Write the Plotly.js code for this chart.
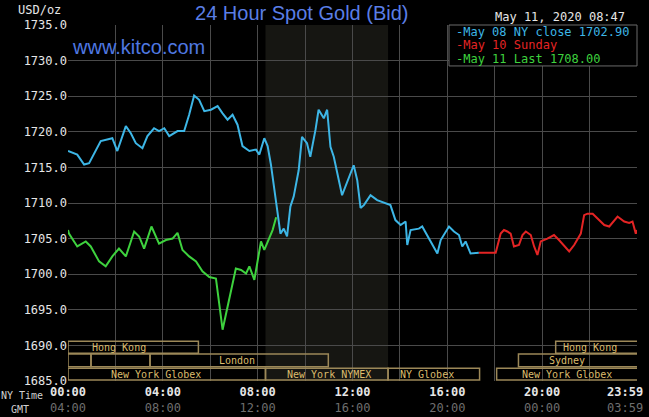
<!DOCTYPE html>
<html>
<head>
<meta charset="utf-8">
<script src="https://cdn.plot.ly/plotly-3.0.1.min.js"></script>
<style>html,body{margin:0;padding:0;background:#000;}#chart{width:649px;height:417px;}</style>
</head>
<body>
<div id="chart"></div>
<script>
// Time in hours (NY time), values in USD/oz
var may08Hours = [0.0,0.39,0.68,0.89,1.38,1.59,1.87,2.08,2.44,2.65,2.86,3.14,3.35,3.63,3.84,4.06,4.27,4.62,4.90,5.11,5.32,5.53,5.75,6.03,6.31,6.52,6.73,6.94,7.15,7.36,7.65,7.93,8.07,8.28,8.42,8.56,8.67,8.82,8.96,9.10,9.24,9.38,9.52,9.73,9.87,10.08,10.22,10.44,10.57,10.79,10.93,11.07,11.21,11.56,11.77,12.05,12.20,12.34,12.48,12.76,13.04,13.39,13.60,13.81,14.03,14.24,14.31,14.45,14.80,14.94,15.15,15.37,15.58,15.72,16.07,16.28,16.49,16.63,16.77,16.98,17.33];
var may08Values = [1717.3,1716.8,1715.4,1715.6,1718.7,1718.9,1719.1,1717.3,1720.8,1719.8,1718.4,1717.7,1719.4,1720.5,1720.1,1720.5,1719.4,1720.1,1720.1,1722.4,1725.1,1724.5,1722.9,1723.1,1723.6,1722.6,1721.7,1722.4,1721.0,1718.0,1717.3,1717.5,1716.8,1719.1,1718.0,1715.4,1712.8,1709.0,1705.7,1706.4,1705.3,1709.5,1710.9,1714.6,1719.3,1718.4,1716.5,1720.3,1723.1,1721.9,1723.1,1717.9,1716.5,1711.1,1712.8,1715.3,1713.2,1709.3,1709.7,1711.1,1710.4,1710.0,1709.7,1707.6,1706.9,1707.4,1704.1,1706.2,1706.4,1706.7,1705.5,1704.1,1702.9,1704.8,1706.7,1706.0,1705.5,1703.9,1704.6,1702.9,1703.0];

var may10Hours = [17.33,18.04,18.25,18.39,18.53,18.67,18.81,19.02,19.17,19.31,19.52,19.66,19.80,19.94,20.22,20.50,20.71,20.93,21.14,21.35,21.63,21.77,21.91,22.13,22.34,22.62,22.83,23.18,23.46,23.67,23.81,23.95,24.0];
var may10Values = [1703.0,1703.0,1705.7,1706.2,1706.0,1705.7,1703.9,1704.1,1705.5,1706.0,1705.5,1703.9,1702.7,1704.6,1705.0,1705.5,1704.8,1703.9,1703.2,1704.1,1705.7,1708.3,1708.5,1708.5,1707.8,1706.9,1706.7,1708.1,1707.4,1707.2,1707.4,1705.7,1706.2];

var may11Hours = [0.0,0.04,0.39,0.75,0.96,1.31,1.59,1.87,2.15,2.44,2.79,3.00,3.21,3.52,3.84,4.13,4.41,4.62,4.83,5.11,5.40,5.67,5.96,6.24,6.52,6.80,7.08,7.30,7.51,7.65,7.86,8.14,8.28,8.63,8.78];
var may11Values = [1706.2,1705.7,1703.9,1704.6,1703.9,1701.8,1701.1,1702.5,1703.6,1702.5,1706.0,1705.3,1703.6,1706.7,1704.3,1704.8,1705.0,1705.8,1703.4,1702.5,1701.8,1700.4,1699.6,1699.4,1692.2,1696.4,1700.8,1700.6,1700.1,1701.1,1699.2,1704.6,1703.4,1706.2,1708.0];

var seriesNames = ["-May 08 NY close 1702.90", "-May 10 Sunday", "-May 11 Last 1708.00"];

var nyTickVals = [0, 4, 8, 12, 16, 20, 23.5];
var nyTickText = ["00:00", "04:00", "08:00", "12:00", "16:00", "20:00", "23:59"];
var gmtTickText = ["04:00", "08:00", "12:00", "16:00", "20:00", "00:00", "03:59"];

var yTickVals = [1685, 1690, 1695, 1700, 1705, 1710, 1715, 1720, 1725, 1730, 1735];

// Market sessions (hours NY time), row 1 = top
var sessionNames = ["Hong Kong", "", "", "London", "New York Globex", "New York NYMEX", "NY Globex", "New York Globex", "Sydney", "Hong Kong"];
var sessionStart = [0, 0, 0.97, 3.46, 0, 8.33, 13.5, 18.08, 19.0, 20.57];
var sessionEnd   = [5.5, 0.97, 3.46, 10.98, 8.33, 13.5, 17.36, 24.2, 24.2, 24.2];
var sessionRow   = [1, 2, 2, 2, 3, 3, 3, 3, 2, 1];
var sessionLabelAt = [2.14, 0, 0, 7.12, 3.7, 11.0, 15.15, 21.03, 21.03, 22.0];

var nymexShade = [8.33, 13.5];

var C_BLUE = "#3db6e6", C_RED = "#e42424", C_GREEN = "#3ed23e";
var MONO = "DejaVu Sans Mono, monospace";
var GRID = "#4a4a4a";

var traces = [
  {x: may08Hours, y: may08Values, mode: "lines", line: {color: C_BLUE, width: 2}, name: seriesNames[0], hoverinfo: "skip"},
  {x: may10Hours, y: may10Values, mode: "lines", line: {color: C_RED, width: 2}, name: seriesNames[1], hoverinfo: "skip"},
  {x: may11Hours, y: may11Values, mode: "lines", line: {color: C_GREEN, width: 2}, name: seriesNames[2], xaxis: "x2", hoverinfo: "skip"}
];

var rowY = {1: [1690.6, 1688.9], 2: [1688.8, 1687.0], 3: [1686.8, 1685.15]};

var shapes = [
  {type: "rect", xref: "x", yref: "paper", x0: nymexShade[0], x1: nymexShade[1], y0: 0, y1: 1,
   fillcolor: "#161612", line: {width: 0}, layer: "below"}
];
var annotations = [];
for (var i = 0; i < sessionNames.length; i++) {
  var r = rowY[sessionRow[i]];
  shapes.push({type: "rect", xref: "x", yref: "y", x0: sessionStart[i], x1: sessionEnd[i], y0: r[1], y1: r[0],
    fillcolor: "rgba(0,0,0,0)", line: {color: "#9c8858", width: 1.5}, layer: "above"});
  if (sessionNames[i]) {
    annotations.push({xref: "x", yref: "y", x: sessionLabelAt[i], y: (r[0] + r[1]) / 2, text: sessionNames[i],
      showarrow: false, font: {family: MONO, size: 10, color: "#dcbc6c"}, xanchor: "center", yanchor: "middle"});
  }
}
// legend box
shapes.push({type: "rect", xref: "paper", yref: "paper", x0: 0.6696, x1: 1.0, y0: 0.885, y1: 1.0,
  fillcolor: "#000", line: {color: "#6a6a6a", width: 1}, layer: "above"});
var legendColors = [C_BLUE, C_RED, C_GREEN];
var legendY = [0.979, 0.944, 0.905];
for (var k = 0; k < 3; k++) {
  annotations.push({xref: "paper", yref: "paper", x: 0.678, y: legendY[k], text: seriesNames[k], showarrow: false,
    xanchor: "left", yanchor: "middle", font: {family: MONO, size: 12, color: legendColors[k]}});
}
annotations.push(
  {xref: "paper", yref: "paper", x: 0.983, y: 1.0, yshift: 8, text: "May 11, 2020 08:47", showarrow: false,
   xanchor: "right", yanchor: "middle", font: {family: MONO, size: 12, color: "#e6e6e6"}},
  {xref: "paper", yref: "paper", x: 0, xshift: -5, y: 1.0, yshift: 15, text: "USD/oz", showarrow: false,
   xanchor: "right", yanchor: "middle", font: {family: MONO, size: 12, color: "#e6e6e6"}},
  {xref: "paper", yref: "paper", x: 0.003, y: 0.938, text: "www.kitco.com", showarrow: false,
   xanchor: "left", yanchor: "middle", font: {family: "Liberation Sans, Arial, sans-serif", size: 20, color: "#4f78e2"}},
  {xref: "paper", yref: "paper", x: 0, xshift: -23, y: 0, yshift: -14, text: "NY Time", showarrow: false,
   xanchor: "right", yanchor: "middle", font: {family: MONO, size: 10, color: "#d0d0d0"}},
  {xref: "paper", yref: "paper", x: 0, xshift: -48, y: 0, yshift: -28, text: "GMT", showarrow: false,
   xanchor: "center", yanchor: "middle", font: {family: MONO, size: 10, color: "#d0d0d0"}}
);

var tickText = [];
for (var t = 0; t < nyTickText.length; t++) {
  tickText.push("<b>" + nyTickText[t] + "</b><br><span style='color:#6e6e6e'>" + gmtTickText[t] + "</span>");
}

var layout = {
  width: 649, height: 417,
  paper_bgcolor: "#000", plot_bgcolor: "#000",
  margin: {l: 68, r: 12, t: 25, b: 36},
  showlegend: false,
  title: {text: "24 Hour Spot Gold (Bid)", x: 0.465, xanchor: "center", y: 0.968, yanchor: "middle",
    font: {family: "Liberation Sans, Arial, sans-serif", size: 20, color: "#5a7ee6"}},
  xaxis: {range: [0, 24], tickvals: [0,2,4,6,8,10,12,14,16,18,20,22,24], showticklabels: false,
    showgrid: true, gridcolor: GRID, gridwidth: 1, zeroline: false, showline: false, ticks: ""},
  xaxis2: {overlaying: "x", range: [0, 24], tickvals: nyTickVals, ticktext: tickText, showgrid: false,
    zeroline: false, showline: false, ticks: "", side: "bottom", ticklabelstandoff: 2,
    tickfont: {family: MONO, size: 12, color: "#e6e6e6"}},
  yaxis: {range: [1685, 1735], tickvals: yTickVals, tickformat: ".1f", showgrid: true, gridcolor: GRID,
    zeroline: false, showline: false, ticks: "", tickfont: {family: MONO, size: 12, color: "#e6e6e6"}},
  shapes: shapes,
  annotations: annotations
};

Plotly.newPlot("chart", traces, layout, {displayModeBar: false, staticPlot: true});
</script>
</body>
</html>
